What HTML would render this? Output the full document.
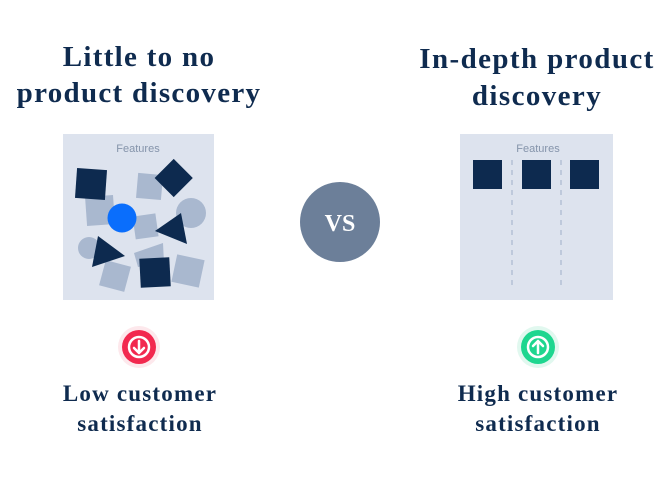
<!DOCTYPE html>
<html><head><style>
body{margin:0;width:670px;height:482px;background:#fff;position:relative;overflow:hidden;font-family:"Liberation Serif",serif;}
.t{position:absolute;color:#0f2b4f;font-weight:bold;text-align:center;white-space:nowrap;}
</style></head><body>
<div class="t" style="left:0;width:278px;top:39px;font-size:29px;line-height:36px;letter-spacing:1.3px">Little to no<br>product discovery</div>
<div class="t" style="left:398px;width:278px;top:41px;font-size:29px;line-height:37px;letter-spacing:1.4px">In-depth product<br>discovery</div>
<div class="t" style="left:0;width:280px;top:379px;font-size:23px;line-height:30px;letter-spacing:1.2px">Low customer<br>satisfaction</div>
<div class="t" style="left:398px;width:280px;top:379px;font-size:23px;line-height:30px;letter-spacing:1.2px">High customer<br>satisfaction</div>
<svg width="670" height="482" style="position:absolute;left:0;top:0">
<rect x="63" y="134" width="151" height="166" fill="#dde3ee"/>
<text x="138" y="152" font-family="Liberation Sans,sans-serif" font-size="11" fill="#8594ab" text-anchor="middle">Features</text>
<g fill="#a9b8cf">
<rect x="86" y="196" width="28" height="29" transform="rotate(-4 100 210)"/>
<rect x="137" y="174" width="25" height="25" transform="rotate(5 150 187)"/>
<circle cx="191" cy="213" r="15"/>
<rect x="134" y="215" width="23" height="23" transform="rotate(-8 145 226)"/>
<circle cx="89" cy="248" r="11"/>
<polygon points="134,253 163,243 164,263 138,267"/>
<rect x="102" y="263" width="26" height="26" transform="rotate(15 115 276)"/>
<rect x="174" y="257" width="28" height="28" transform="rotate(12 188 271)"/>
</g>
<g fill="#0d2a4f">
<rect x="76" y="169" width="30" height="30" transform="rotate(4 91 184)"/>
<rect x="160" y="164" width="27" height="27" transform="rotate(45 173 178)"/>
<polygon points="155,231 181,213 187,244"/>
<polygon points="98,236 125,256 92,267"/>
<rect x="140" y="258" width="30" height="29" transform="rotate(-3 155 272)"/>
</g>
<circle cx="122" cy="218" r="14.5" fill="#0a6efc"/>
<rect x="460" y="134" width="153" height="166" fill="#dde3ee"/>
<text x="538" y="152" font-family="Liberation Sans,sans-serif" font-size="11" fill="#8594ab" text-anchor="middle">Features</text>
<g fill="#0d2a4f"><rect x="473" y="160" width="29" height="29"/><rect x="522" y="160" width="29" height="29"/><rect x="570" y="160" width="29" height="29"/></g>
<g stroke="#a9b8cf" stroke-width="1.2" stroke-dasharray="5,5"><line x1="512" y1="160" x2="512" y2="290"/><line x1="561" y1="160" x2="561" y2="290"/></g>
<circle cx="340" cy="222" r="40" fill="#6c7f99"/>
<text x="340" y="231" font-family="Liberation Serif,serif" font-weight="bold" font-size="24" fill="#fff" text-anchor="middle">VS</text>
<circle cx="139" cy="347" r="21" fill="#fde8ec"/>
<circle cx="139" cy="347" r="17" fill="#f2294f"/>
<g stroke="#fff" stroke-width="2.5" fill="none" stroke-linecap="round" stroke-linejoin="round"><circle cx="139" cy="347" r="10"/><path d="M139 341v12M134 348l5 5 5-5"/></g>
<circle cx="538" cy="347" r="21" fill="#e1f8ef"/>
<circle cx="538" cy="347" r="17" fill="#1ed68f"/>
<g stroke="#fff" stroke-width="2.5" fill="none" stroke-linecap="round" stroke-linejoin="round"><circle cx="538" cy="347" r="10"/><path d="M538 353v-12M533 346l5-5 5 5"/></g>
</svg>
</body></html>
